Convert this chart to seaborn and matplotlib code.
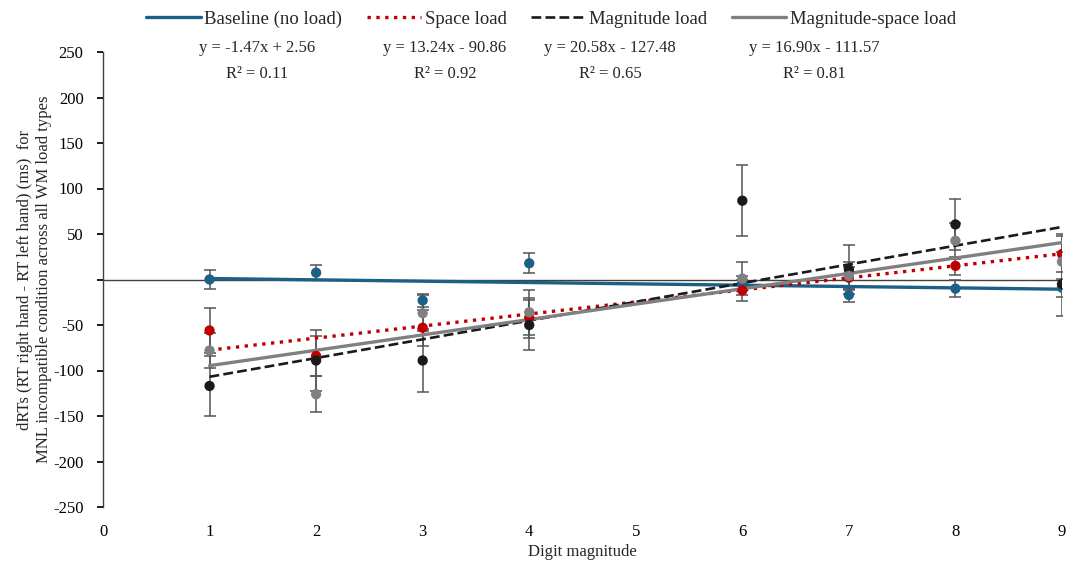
import numpy as np
import pandas as pd
import matplotlib
matplotlib.use("Agg")
import matplotlib.pyplot as plt
import seaborn as sns
from matplotlib.lines import Line2D

# ---- data ----
digits = [1, 2, 3, 4, 6, 7, 8, 9]
series_names = ["Baseline (no load)", "Space load", "Magnitude load", "Magnitude-space load"]
baseline = [0, 7.5, -23, 17.8, -4, -17, -10, -9]
space = [-56, -84, -53, -42, -12, 2, 15, 28]
magnitude = [-117, -89, -89, -50, 86.6, 11, 60.5, -5]
magspace = [-78, -126, -37, -36, 1, 4, 42.6, 19.6]
err_baseline = [10, 8, 7, 11, 8, 8, 9, 10]
err_space = [25, 22, 20, 22, 12, 12, 10, 20]
err_magnitude = [33, 34, 35, 28, 39, 27, 28, 35]
err_magspace = [19, 20, 20, 25, 18, 15, 20, 30]
slopes = [-1.47, 13.24, 20.58, 16.90]
intercepts = [2.56, -90.86, -127.48, -111.57]
eq_labels = ["y = -1.47x + 2.56", "y = 13.24x - 90.86", "y = 20.58x - 127.48", "y = 16.90x - 111.57"]
r2_labels = ["R² = 0.11", "R² = 0.92", "R² = 0.65", "R² = 0.81"]
x_ticks = list(range(0, 10))
y_ticks = [250, 200, 150, 100, 50, 0, -50, -100, -150, -200, -250]

values = [baseline, space, magnitude, magspace]
errors = [err_baseline, err_space, err_magnitude, err_magspace]

colors = ["#1C5F87", "#C00000", "#1A1A1A", "#808080"]
styles = ["-", ":", "--", "-"]
widths = [2.4, 2.4, 1.9, 2.4]

sns.set_theme(style="white")
plt.rcParams["font.family"] = ["Liberation Serif", "DejaVu Serif"]

fig = plt.figure(figsize=(10.73, 5.65), dpi=100)
ax = fig.add_axes([103 / 1073, 1 - 507 / 565, (1062 - 103) / 1073, (507 - 52) / 565])

df = pd.DataFrame({
    "digit": np.tile(digits, 4),
    "value": np.concatenate(values),
    "err": np.concatenate(errors),
    "series": np.repeat(series_names, len(digits)),
})

# zero line
ax.axhline(0, color="#404040", lw=1.0, zorder=1)

# error bars
for name, vals, errs in zip(series_names, values, errors):
    ax.errorbar(digits, vals, yerr=errs, fmt="none", ecolor="#555555", elinewidth=1.1,
                capsize=4, capthick=1.1, zorder=2)

# points
sns.scatterplot(data=df, x="digit", y="value", hue="series", palette=colors,
                hue_order=series_names, s=55, edgecolor="none", ax=ax, legend=False, zorder=4)

# trend lines
xs = np.array([1, 9])
for i, name in enumerate(series_names):
    tdf = pd.DataFrame({"x": xs, "y": slopes[i] * xs + intercepts[i]})
    sns.lineplot(data=tdf, x="x", y="y", color=colors[i], lw=widths[i], ax=ax, zorder=3)
    ax.lines[-1].set_linestyle(styles[i])

# equation texts
eq_x = [1.45, 3.21, 4.76, 6.68]
for i in range(4):
    ax.text(eq_x[i], 254, eq_labels[i], ha="center", va="center", fontsize=12)
    ax.text(eq_x[i], 226, r2_labels[i], ha="center", va="center", fontsize=12)

ax.set_xlim(0, 9)
ax.set_ylim(-250, 250)
ax.set_xticks(x_ticks)
ax.set_yticks(y_ticks)
ax.set_yticklabels([str(t) if t != 0 else "" for t in y_ticks])
ax.tick_params(axis="both", labelsize=12, colors="#000000", length=4, direction="out",
               left=True, bottom=True)
ax.tick_params(axis="y", pad=10)
ax.tick_params(axis="x", length=0, pad=12)
ax.set_xlabel("Digit magnitude", fontsize=12, labelpad=3)
ax.set_ylabel("dRTs (RT right hand - RT left hand) (ms)  for\nMNL incompatible condition across all WM load types",
              fontsize=12, labelpad=1)
for s in ["top", "right", "bottom"]:
    ax.spines[s].set_visible(False)
ax.spines["left"].set_color("#404040")
ax.spines["left"].set_linewidth(1.0)

handles = [Line2D([0], [0], color=colors[i], lw=widths[i], ls=styles[i]) for i in range(4)]
fig.legend(handles, series_names, loc="center", bbox_to_anchor=(551 / 1073, 1 - 19 / 565),
           ncol=4, frameon=False, fontsize=13.5, handlelength=2.9, columnspacing=1.3,
           handletextpad=0.2)

fig.savefig("out.png", dpi=100)
